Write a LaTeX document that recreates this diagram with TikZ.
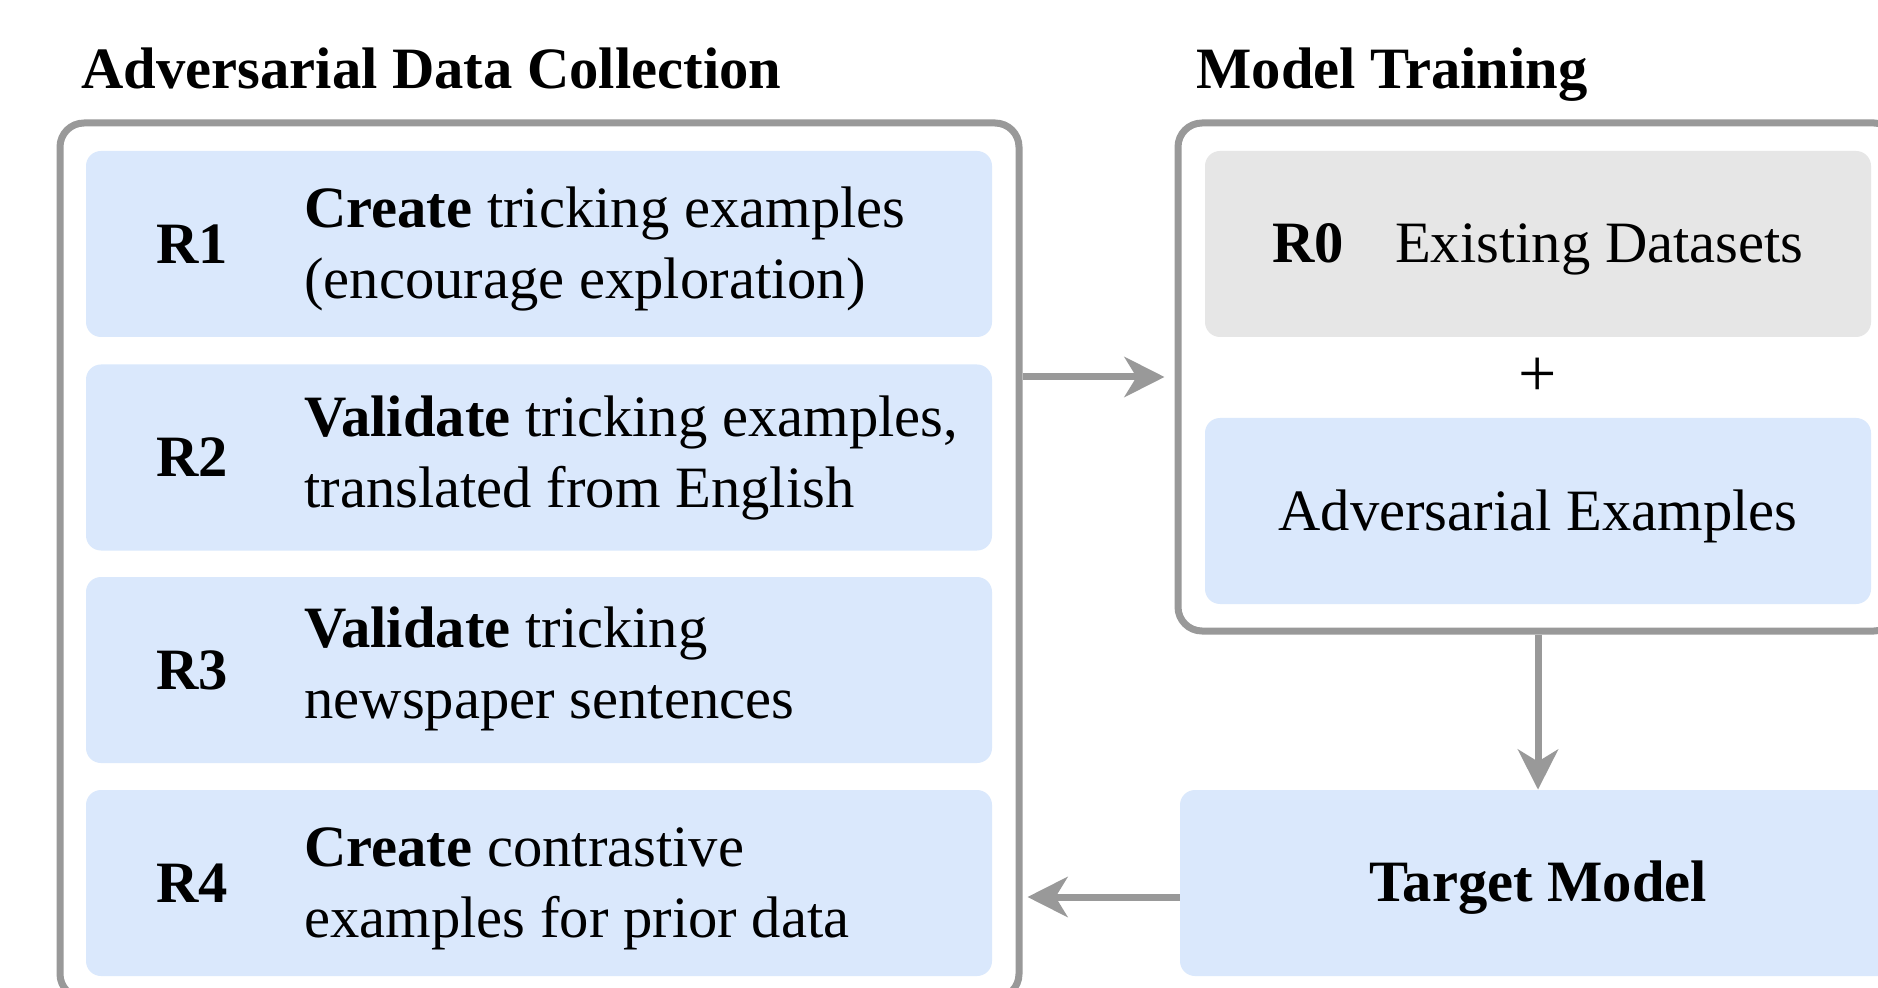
\documentclass[tikz,border=0pt]{standalone}
\usepackage{fontspec}
\setmainfont{Liberation Serif}
\usetikzlibrary{arrows.meta,calc}
\definecolor{boxblue}{HTML}{DAE8FC}
\definecolor{boxgray}{HTML}{E6E6E6}
\definecolor{linegray}{HTML}{999999}
\begin{document}
\begin{tikzpicture}[x=0.5pt,y=-0.5pt,
  font=\fontsize{29.3}{35.5}\selectfont,
  outerbox/.style={draw=linegray, line width=3.5pt, rounded corners=12pt, fill=white, inner sep=0pt},
  roundbox/.style={fill=boxblue, rounded corners=7.5pt, inner sep=0pt, minimum width=453pt, minimum height=93pt},
  graybox/.style={roundbox, fill=boxgray, minimum width=333pt},
  lbl/.style={font=\fontsize{29.3}{35.5}\selectfont\bfseries, inner sep=0pt},
  desc/.style={anchor=west, align=left, inner sep=0pt},
  plain/.style={inner sep=0pt},
  title/.style={anchor=base west, inner sep=0pt, font=\fontsize{29.3}{35.5}\selectfont\bfseries},
  arr/.style={draw=linegray, line width=3.5pt, -{Stealth[length=20pt, width=20pt, inset=6pt]}}
]
\clip (0,0) rectangle (1878,988);
\fill[white] (0,0) rectangle (1878,988);

% titles
\node[title] (t1) at (81,89) {Adversarial Data Collection};
\node[title] (t2) at (1196,89) {Model Training};

% outer boxes
\node[outerbox, minimum width=479.5pt, minimum height=437.5pt] (left) at (539.5,560.5) {};
\node[outerbox, minimum width=360pt, minimum height=254pt] (right) at (1538,377) {};

% left stages
\node[roundbox] (b1) at (539,244) {};
\node[roundbox] (b2) at (539,457.5) {};
\node[roundbox] (b3) at (539,670) {};
\node[roundbox] (b4) at (539,883) {};

\node[lbl] (r1) at (192,244) {R1};
\node[lbl] (r2) at (192,457.5) {R2};
\node[lbl] (r3) at (192,670) {R3};
\node[lbl] (r4) at (192,883) {R4};

\node[desc] (d1) at (304,249) {\textbf{Create} tricking examples\\(encourage exploration)};
\node[desc] (d2) at (304,457.5) {\textbf{Validate} tricking examples,\\translated from English};
\node[desc] (d3) at (304,669) {\textbf{Validate} tricking\\newspaper sentences};
\node[desc] (d4) at (304,889) {\textbf{Create} contrastive\\examples for prior data};

% right boxes
\node[graybox] (r0box) at (1538,244) {};
\node[plain] (r0t) at (1538,249) {\textbf{R0}\hspace{25.5pt}Existing Datasets};
\node[plain, font=\fontsize{34}{40}\selectfont] (plus) at (1538,377) {+};
\node[roundbox, minimum width=333pt] (adv) at (1538,511) {};
\node[plain] (advt) at (1538,516) {Adversarial Examples};

\node[roundbox, minimum width=358pt] (target) at (1538,883) {};
\node[lbl] (targett) at (1538,888) {Target Model};

% arrows
\draw[arr, shorten >=5pt] (left.east |- right.west) -- (right.west);
\draw[arr] (right.south) -- (target.north);
\draw[arr, shorten >=2.5pt] ([yshift=-7pt]target.west) -- ([yshift=-7pt]target.west -| left.east);
\end{tikzpicture}
\end{document}
